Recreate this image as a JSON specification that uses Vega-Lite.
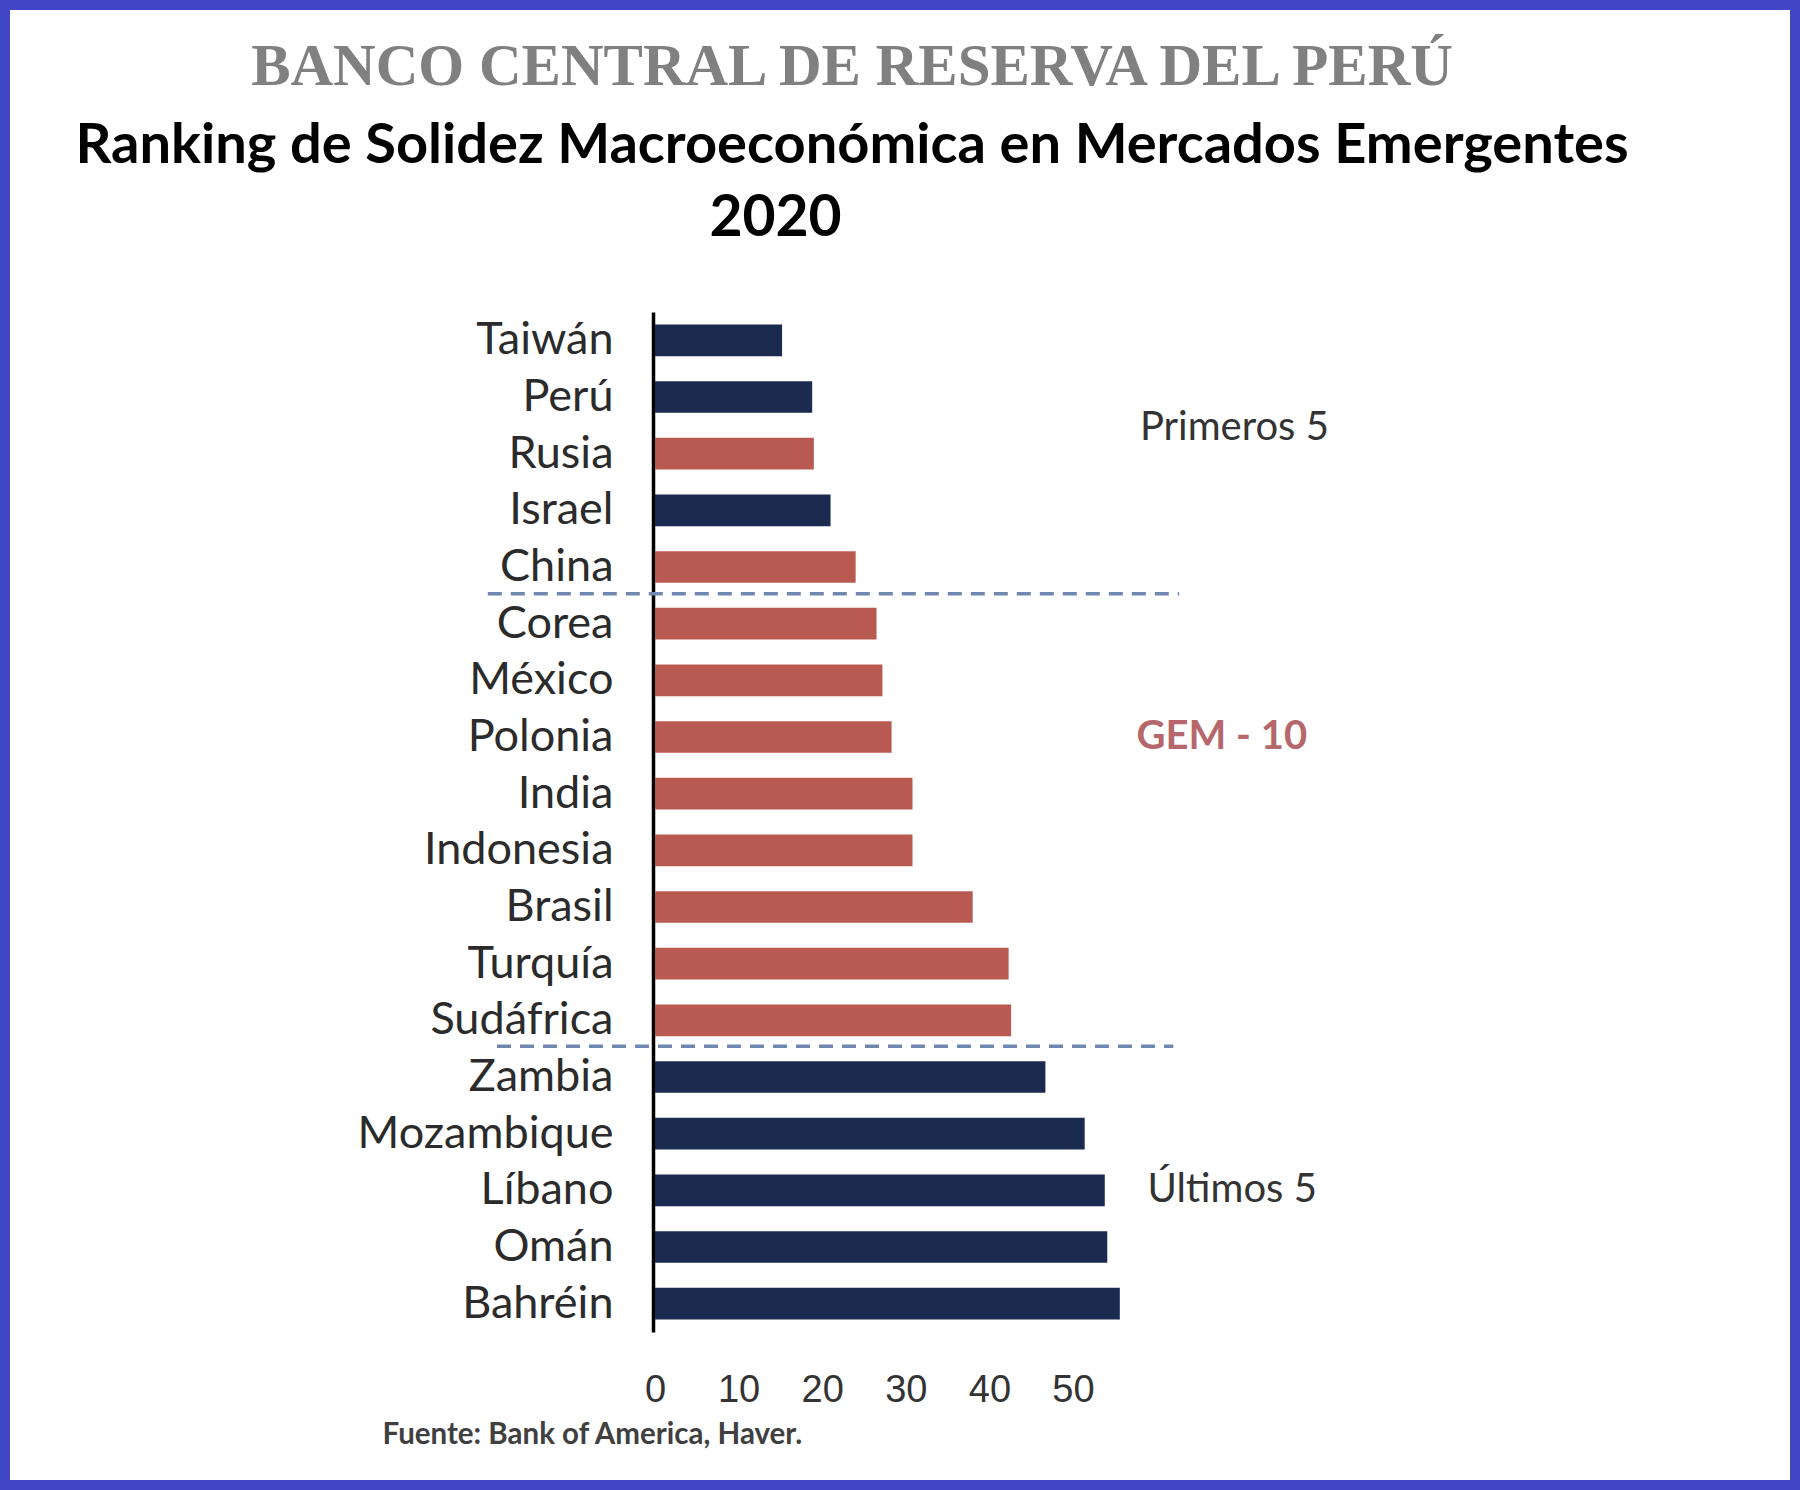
{
  "$schema": "https://vega.github.io/schema/vega-lite/v6.json",
  "width": 1800,
  "height": 1490,
  "autosize": {"type": "none"},
  "padding": 0,
  "background": "white",
  "config": {
    "view": {"stroke": "#4146C6", "strokeWidth": 20, "fill": "white"},
    "font": "Lato",
    "axis": {"grid": false}
  },
  "title": {
    "text": "BANCO CENTRAL DE RESERVA DEL PERÚ",
    "subtitle": "Ranking de Solidez Macroeconómica en Mercados Emergentes",
    "anchor": "middle",
    "frame": "group",
    "offset": -174,
    "dx": -48,
    "font": "Liberation Serif",
    "fontSize": 59,
    "fontWeight": "bold",
    "color": "#808080",
    "subtitleFont": "Lato",
    "subtitleFontSize": 56,
    "subtitleFontWeight": "bold",
    "subtitleColor": "#000000",
    "subtitlePadding": 22
  },
  "data": {
    "values": [
      {"pais": "Taiwán", "valor": 15.2, "grupo": "Otros"},
      {"pais": "Perú", "valor": 18.8, "grupo": "Otros"},
      {"pais": "Rusia", "valor": 19.0, "grupo": "GEM-10"},
      {"pais": "Israel", "valor": 21.0, "grupo": "Otros"},
      {"pais": "China", "valor": 24.0, "grupo": "GEM-10"},
      {"pais": "Corea", "valor": 26.5, "grupo": "GEM-10"},
      {"pais": "México", "valor": 27.2, "grupo": "GEM-10"},
      {"pais": "Polonia", "valor": 28.3, "grupo": "GEM-10"},
      {"pais": "India", "valor": 30.8, "grupo": "GEM-10"},
      {"pais": "Indonesia", "valor": 30.8, "grupo": "GEM-10"},
      {"pais": "Brasil", "valor": 38.0, "grupo": "GEM-10"},
      {"pais": "Turquía", "valor": 42.3, "grupo": "GEM-10"},
      {"pais": "Sudáfrica", "valor": 42.6, "grupo": "GEM-10"},
      {"pais": "Zambia", "valor": 46.7, "grupo": "Otros"},
      {"pais": "Mozambique", "valor": 51.4, "grupo": "Otros"},
      {"pais": "Líbano", "valor": 53.8, "grupo": "Otros"},
      {"pais": "Omán", "valor": 54.1, "grupo": "Otros"},
      {"pais": "Bahréin", "valor": 55.6, "grupo": "Otros"}
    ]
  },
  "layer": [
    {
      "mark": {"type": "bar"},
      "encoding": {
        "y": {
          "field": "pais",
          "type": "nominal",
          "scale": {
            "domain": ["Taiwán", "Perú", "Rusia", "Israel", "China", "Corea", "México", "Polonia", "India", "Indonesia", "Brasil", "Turquía", "Sudáfrica", "Zambia", "Mozambique", "Líbano", "Omán", "Bahréin"],
            "range": [312, 1332],
            "paddingInner": 0.44,
            "paddingOuter": 0.22
          },
          "axis": {
            "orient": "left",
            "offset": -653,
            "domain": true,
            "domainColor": "#000000",
            "domainWidth": 3.5,
            "ticks": false,
            "tickSize": 0,
            "labelPadding": 40,
            "labelFont": "Lato",
            "labelFontSize": 45,
            "labelColor": "#2b2b2b",
            "labelLimit": 0,
            "title": "2020",
            "titleAngle": 0,
            "titleX": 122,
            "titleY": 235,
            "titleAlign": "center",
            "titleBaseline": "alphabetic",
            "titleFont": "Lato",
            "titleFontSize": 57,
            "titleFontWeight": "bold",
            "titleColor": "#000000"
          }
        },
        "x": {
          "field": "valor",
          "type": "quantitative",
          "stack": null,
          "scale": {"domain": [0, 50], "range": [655, 1073], "nice": false},
          "axis": {
            "orient": "bottom",
            "offset": -100,
            "values": [0, 10, 20, 30, 40, 50],
            "domain": false,
            "ticks": false,
            "tickSize": 0,
            "grid": false,
            "labelPadding": 0,
            "labelBaseline": "middle",
            "labelFont": "Liberation Sans Narrow, Liberation Sans, Arial",
            "labelFontSize": 38,
            "labelColor": "#333333",
            "labelFlush": false,
            "labelOverlap": false,
            "title": "Fuente: Bank of America, Haver.",
            "titleX": 382,
            "titleY": 44,
            "titleAlign": "left",
            "titleBaseline": "middle",
            "titleAngle": 0,
            "titleFont": "Lato",
            "titleFontWeight": "bold",
            "titleFontSize": 29.5,
            "titleColor": "#404040"
          }
        },
        "color": {
          "field": "grupo",
          "type": "nominal",
          "scale": {"domain": ["GEM-10", "Otros"], "range": ["#b85a52", "#1b2b4f"]},
          "legend": null
        }
      }
    },
    {
      "data": {"values": [{}]},
      "mark": {"type": "rule", "strokeDash": [14, 9], "strokeWidth": 3.5, "color": "#7088b0", "yOffset": -14},
      "encoding": {
        "y": {"datum": "Corea", "type": "nominal", "bandPosition": 0},
        "x": {"datum": -20.0, "type": "quantitative"},
        "x2": {"datum": 62.7}
      }
    },
    {
      "data": {"values": [{}]},
      "mark": {"type": "rule", "strokeDash": [14, 9], "strokeWidth": 3.5, "color": "#7088b0", "yOffset": -15},
      "encoding": {
        "y": {"datum": "Zambia", "type": "nominal", "bandPosition": 0},
        "x": {"datum": -18.9, "type": "quantitative"},
        "x2": {"datum": 62.0}
      }
    },
    {
      "data": {"values": [{}]},
      "mark": {"type": "text", "text": "Primeros 5", "align": "left", "baseline": "middle", "font": "Lato", "fontSize": 40, "color": "#333333", "dy": -10},
      "encoding": {
        "y": {"datum": "Rusia", "type": "nominal", "bandPosition": 0},
        "x": {"datum": 58.0, "type": "quantitative"}
      }
    },
    {
      "data": {"values": [{}]},
      "mark": {"type": "text", "text": "GEM - 10", "align": "left", "baseline": "middle", "font": "Lato", "fontSize": 40, "fontWeight": "bold", "color": "#b5676b"},
      "encoding": {
        "y": {"datum": "Polonia", "type": "nominal"},
        "x": {"datum": 57.6, "type": "quantitative"}
      }
    },
    {
      "data": {"values": [{}]},
      "mark": {"type": "text", "text": "Últimos 5", "align": "left", "baseline": "middle", "font": "Lato", "fontSize": 40, "color": "#333333"},
      "encoding": {
        "y": {"datum": "Líbano", "type": "nominal"},
        "x": {"datum": 58.9, "type": "quantitative"}
      }
    }
  ]
}
